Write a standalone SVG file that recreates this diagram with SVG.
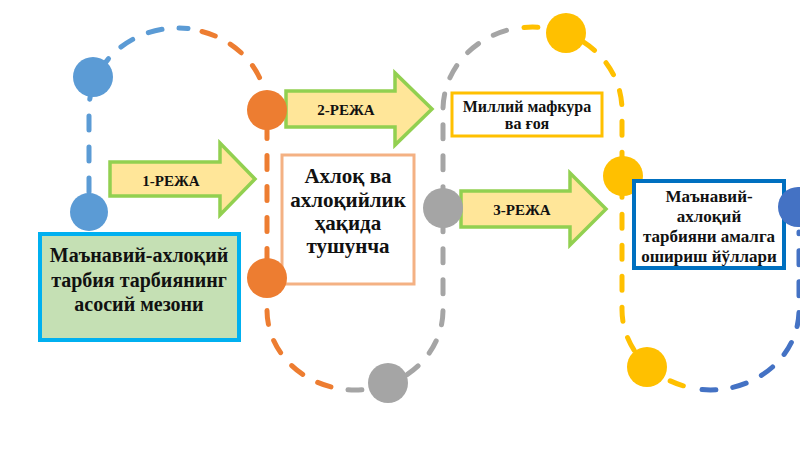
<svg xmlns="http://www.w3.org/2000/svg" width="800" height="449" viewBox="0 0 800 449">
<style>
.dash{fill:none;stroke-width:5;stroke-linecap:round;stroke-dasharray:14 17}
.arrow{fill:#FFE699;stroke:#92D050;stroke-width:3.5;stroke-linejoin:miter}
.t{font-family:"Liberation Serif","DejaVu Serif",serif;font-weight:bold;fill:#111;text-anchor:middle}
.blue{fill:#5B9BD5}.orange{fill:#ED7D31}.gray{fill:#A5A5A5}.yellow{fill:#FFC000}.dblue{fill:#4472C4}
</style>
<rect width="800" height="449" fill="#fff"/>
<g id="connectors">
<path class="dash" stroke="#5B9BD5" d="M89 192 V110 A89 82 0 0 1 188 28.5"/>
<path class="dash" stroke="#ED7D31" d="M202 31.5 A89 82 0 0 1 267 110 V310 A88 80 0 0 0 340 388.8"/>
<path class="dash" stroke="#A5A5A5" d="M348 389.8 A88 80 0 0 0 443 310 V110 A89.5 83 0 0 1 512 29"/>
<path class="dash" stroke="#FFC000" d="M524 27.5 A89.5 83 0 0 1 622 110 V310 A88.5 80 0 0 0 690 387.5"/>
<path class="dash" stroke="#4472C4" d="M702 389.6 A88.5 80 0 0 0 799 310 V232"/>
</g>
<g id="node1">
<rect x="40" y="234" width="199" height="106" fill="#C5E0B4" stroke="#00B0F0" stroke-width="4"/>
<text class="t" font-size="20" x="139" y="262">Маънавий-ахлоқий</text>
<text class="t" font-size="20" x="139" y="287">тарбия тарбиянинг</text>
<text class="t" font-size="20" x="139" y="311">асосий мезони</text>
</g>
<g id="node2">
<rect x="282" y="155" width="132" height="129" fill="#fff" stroke="#F4B183" stroke-width="3"/>
<text class="t" font-size="21" x="348" y="183">Ахлоқ ва</text>
<text class="t" font-size="21" x="348" y="207">ахлоқийлик</text>
<text class="t" font-size="21" x="348" y="230">ҳақида</text>
<text class="t" font-size="21" x="348" y="253">тушунча</text>
</g>
<g id="node3">
<rect x="452" y="93" width="150" height="43" fill="#fff" stroke="#FFC000" stroke-width="3"/>
<text class="t" font-size="16" x="527" y="112">Миллий мафкура</text>
<text class="t" font-size="16" x="527" y="129">ва ғоя</text>
</g>
<g id="arrow1">
<polygon class="arrow" points="110,162 220,162 220,143 255,179 220,215 220,196 110,196"/>
<text class="t" font-size="15" x="171" y="186">1-РЕЖА</text>
</g>
<g id="arrow2">
<polygon class="arrow" points="286,91 395,91 395,73 432,109 395,145 395,127 286,127"/>
<text class="t" font-size="15" x="346" y="115">2-РЕЖА</text>
</g>
<g id="arrow3">
<polygon class="arrow" points="461,191 570,191 570,173 606,209 570,245 570,227 461,227"/>
<text class="t" font-size="15" x="522" y="215">3-РЕЖА</text>
</g>
<g id="dots">
<circle class="blue" cx="93" cy="77" r="20"/>
<circle class="blue" cx="89" cy="212" r="19"/>
<circle class="orange" cx="267" cy="110" r="20"/>
<circle class="orange" cx="267" cy="278" r="20"/>
<circle class="gray" cx="388" cy="383" r="20"/>
<circle class="gray" cx="443" cy="208" r="20"/>
<circle class="yellow" cx="566" cy="33" r="20"/>
<circle class="yellow" cx="623" cy="176" r="20"/>
<circle class="yellow" cx="647" cy="367" r="20"/>
</g>
<g id="node4">
<rect x="634" y="181" width="150" height="87" fill="#fff" stroke="#0070C0" stroke-width="4"/>
<text class="t" font-size="17" x="709" y="202">Маънавий-</text>
<text class="t" font-size="17" x="709" y="222">ахлоқий</text>
<text class="t" font-size="17" x="709" y="242">тарбияни амалга</text>
<text class="t" font-size="17" x="709" y="262">ошириш йўллари</text>
</g>
<g id="dot-right">
<circle class="dblue" cx="798" cy="207" r="20"/>
</g>
</svg>
